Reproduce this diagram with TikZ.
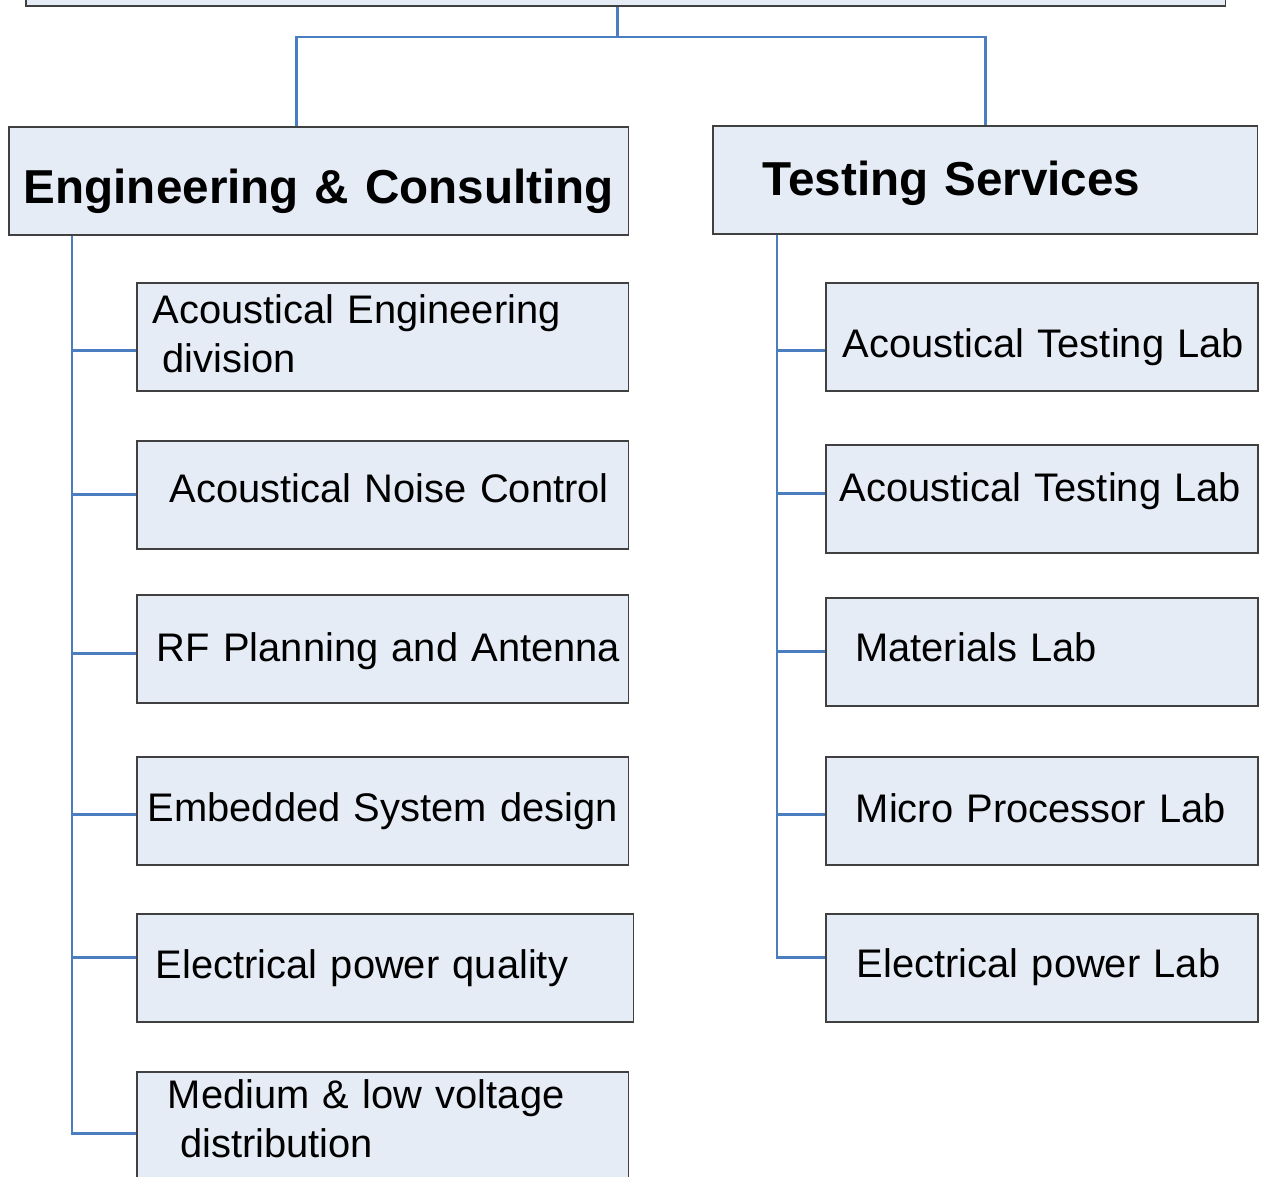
\documentclass[tikz,border=0pt]{standalone}
\usepackage{fontspec}
\setmainfont{Liberation Sans}
\definecolor{boxfill}{RGB}{230,236,246}
\definecolor{boxline}{RGB}{64,64,64}
\definecolor{linkblue}{RGB}{74,126,193}
\tikzstyle{unit}=[rectangle,draw=boxline,fill=boxfill,line width=0.9pt,anchor=north west,inner sep=0pt,text depth=0pt,minimum height=2.16cm,align=left]
\tikzstyle{head}=[unit,font=\fontsize{27.1}{32}\selectfont\bfseries]
\tikzstyle{lab}=[unit,font=\fontsize{22.7}{27.9}\selectfont]
\tikzstyle{link}=[draw=linkblue,line width=1.6pt]

\begin{document}
\begin{tikzpicture}[x=0.02cm,y=-0.02cm]
    \clip (0,0) rectangle (1263,1176);
    % The parent box, only its lower edge is seen
    \node[unit,anchor=south west,minimum width=24cm,minimum height=2cm] (top) at (25,7) {};
    % The two departments
    \node[head,text width=12.4cm,text height=26.2pt,align=center] (eng) at (8,126) {Engineering \& Consulting};
    \node[head,text width=10.9cm,text height=18.2pt] (ts) at (712,125) {\hspace*{1cm}Testing Services};
    % Units under each department
    \foreach \pos/\name/\boxw/\pad/\lift/\txt in {{(136,282)/e1/9.84/0.32/-14.8/{Acoustical Engineering\\\hspace*{0.52cm}division}},
                            {(136,440)/e2/9.84/0.66/9.3/{Acoustical Noise Control}},
                            {(136,594)/e3/9.84/0.40/14.8/{RF Planning and Antenna}},
                            {(136,756)/e4/9.84/0.22/12.2/{Embedded System design}},
                            {(136,913)/e5/9.94/0.38/12.5/{Electrical power quality}},
                            {(136,1071)/e6/9.84/0.62/-20.1/{Medium \& low voltage\\\hspace*{0.87cm}distribution}},
                            {(825,282)/t1/8.64/0.34/23.9/{Acoustical Testing Lab}},
                            {(825,444)/t2/8.64/0.28/3.1/{Acoustical Testing Lab}},
                            {(825,597)/t3/8.64/0.59/11.4/{Materials Lab}},
                            {(825,756)/t4/8.64/0.60/13.1/{Micro Processor Lab}},
                            {(825,913)/t5/8.64/0.62/11.4/{Electrical power Lab}}}
    {
        \pgfmathsetmacro\tht{max(\lift,0)}
        \pgfmathsetmacro\tdp{max(-\lift,0)}
        \node[lab,text width=\boxw cm,text height=\tht pt,text depth=\tdp pt] (\name) at \pos {\hspace*{\pad cm}\txt};
    }
    % Connect the parent with the departments
    \draw[link] ([xshift=-0.16cm]top.south) -- ++(0,30) coordinate (bus);
    \draw[link] (bus) -| ([xshift=-0.44cm]eng.north);
    \draw[link] (bus) -| (ts.north);
    % Connect departments with their units
    \coordinate (lspine) at ([xshift=1.28cm]eng.south west);
    \coordinate (rspine) at ([xshift=1.3cm]ts.south west);
    \foreach \spine/\dest/\off in {lspine/e1/-0.28, lspine/e2/0, lspine/e3/-0.1, lspine/e4/-0.07, lspine/e5/0.2, lspine/e6/-0.16,
                                   rspine/t1/-0.28, rspine/t2/0.11, rspine/t3/0, rspine/t4/-0.07, rspine/t5/0.2}
        \draw[link] (\spine) |- ([yshift=\off cm]\dest.west);
\end{tikzpicture}
\end{document}
